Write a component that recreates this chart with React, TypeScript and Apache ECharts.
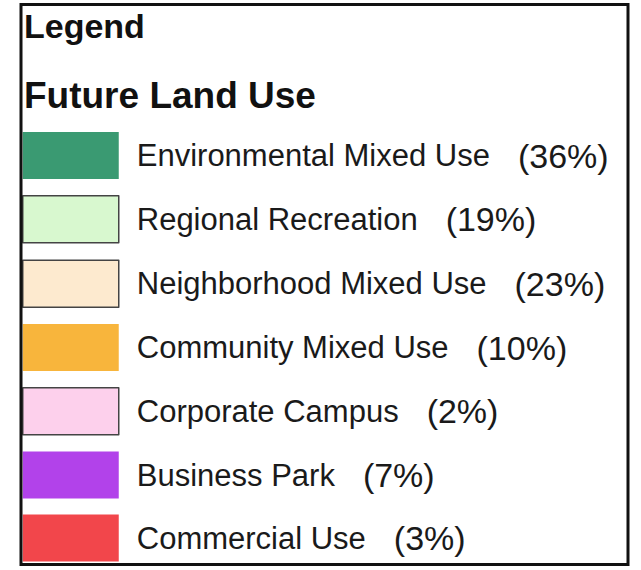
import React, { useEffect, useRef } from "react";
import * as echarts from "echarts";

const categories = [
  "Environmental Mixed Use",
  "Regional Recreation",
  "Neighborhood Mixed Use",
  "Community Mixed Use",
  "Corporate Campus",
  "Business Park",
  "Commercial Use",
];
const shares = [36, 19, 23, 10, 2, 7, 3];
const colors = ["#3a9a72", "#d8f8cf", "#fdeacf", "#f8b53c", "#fdd0ec", "#b242ea", "#f2464b"];
const outlined = [false, true, true, false, true, false, false];
const titleText = "Legend";
const subtitleText = "Future Land Use";

const FONT = "'Liberation Sans', Arial, Helvetica, sans-serif";

export default function App() {
  const ref = useRef<HTMLDivElement>(null);
  useEffect(() => {
    if (!ref.current) return;
    const chart = echarts.init(ref.current, null, { renderer: "svg" });
    const pctByName: Record<string, number> = {};
    categories.forEach((c, i) => (pctByName[c] = shares[i]));
    chart.setOption({
      animation: false,
      backgroundColor: "#ffffff",
      legend: {
        orient: "vertical",
        left: 22,
        top: 132,
        height: 440,
        padding: 0,
        itemWidth: 96,
        itemHeight: 47,
        itemGap: 16,
        icon: "rect",
        selectedMode: false,
        data: categories.map((c, i) => ({
          name: c,
          itemStyle: outlined[i]
            ? { color: colors[i], borderColor: "#444", borderWidth: 1.5 }
            : { color: colors[i], borderWidth: 0 },
        })),
        formatter: (name: string) => `{n|${name}}{p|(${pctByName[name]}%)}`,
        textStyle: {
          fontFamily: FONT,
          fontSize: 31,
          color: "#1a1a1a",
          padding: [0, 0, 0, 13],
          rich: {
            n: { fontFamily: FONT, fontSize: 31, color: "#1a1a1a", padding: [0, 28, 0, 0] },
            p: { fontFamily: FONT, fontSize: 34, color: "#1a1a1a" },
          },
        },
      },
      series: [
        {
          type: "pie",
          silent: true,
          radius: [0, 0],
          center: [-100, -100],
          label: { show: false },
          labelLine: { show: false },
          data: categories.map((c, i) => ({ name: c, value: shares[i], itemStyle: { color: colors[i] } })),
        },
      ],
      graphic: [
        {
          type: "rect",
          shape: { x: 21, y: 4.5, width: 607, height: 560 },
          style: { fill: "none", stroke: "#111", lineWidth: 3 },
          z: 10,
        },
        {
          type: "text",
          x: 24,
          y: 26,
          style: { text: titleText, font: `bold 34px ${FONT}`, fill: "#111", textVerticalAlign: "middle" },
        },
        {
          type: "text",
          x: 24,
          y: 95,
          style: { text: subtitleText, font: `bold 37px ${FONT}`, fill: "#111", textVerticalAlign: "middle" },
        },
      ],
    });
    return () => chart.dispose();
  }, []);
  return (
    <div
      ref={ref}
      style={{ position: "fixed", left: 0, top: 0, width: 641, height: 570 }}
    />
  );
}
